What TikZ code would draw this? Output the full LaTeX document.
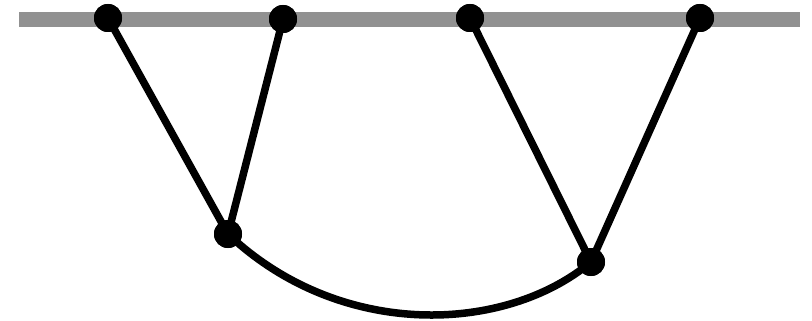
\documentclass[tikz,border=0pt]{standalone}
\begin{document}
\begin{tikzpicture}[x=1pt,y=-1pt,
  dot/.style={circle,fill=black,inner sep=0pt,minimum size=28pt},
  edge/.style={line width=7.5pt,black}]
\definecolor{railgray}{RGB}{145,145,145}
\useasboundingbox (0,0) rectangle (812,321);
\fill[railgray] (19,12) rectangle (800,27);
\node[dot] (t1) at (108,18) {};
\node[dot] (t2) at (283,19) {};
\node[dot] (t3) at (470,18) {};
\node[dot] (t4) at (700,18) {};
\node[dot] (b1) at (228,234) {};
\node[dot] (b2) at (591,262) {};
\draw[edge] (t1.center) -- (b1.center);
\draw[edge] (t2.center) -- (b1.center);
\draw[edge] (t3.center) -- (b2.center);
\draw[edge] (t4.center) -- (b2.center);
\draw[edge] (b1.center) .. controls (340,340) and (505,334) .. (b2.center);
\node[dot] at (t1) {};
\node[dot] at (t2) {};
\node[dot] at (t3) {};
\node[dot] at (t4) {};
\node[dot] at (b1) {};
\node[dot] at (b2) {};
\end{tikzpicture}
\end{document}
